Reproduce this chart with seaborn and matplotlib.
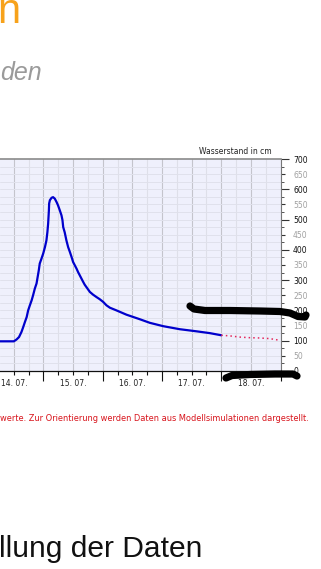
import numpy as np
import pandas as pd
import matplotlib
matplotlib.use("Agg")
import matplotlib.pyplot as plt
import matplotlib.ticker as mticker
from matplotlib.transforms import Affine2D
import seaborn as sns

# water level readings (hours after 14.07. 00:00, cm)
obs_hours = [-5.7, 0.0, 1.1, 2.1, 3.1, 3.8, 4.5, 5.2, 5.8, 6.5, 7.2, 7.8, 8.5, 9.2, 10.1,
             10.5, 11.2, 11.9, 12.6, 13.2, 13.6, 13.9, 14.2, 14.3, 14.6, 15.3, 15.9, 16.6,
             17.3, 17.9, 18.6, 19.3, 19.7, 20.0, 20.6, 21.3, 22.0, 22.7, 23.4, 24.0, 24.7,
             25.4, 26.0, 26.7, 27.4, 28.1, 28.7, 29.4, 30.1, 30.8, 32.1, 33.5, 34.8, 36.2,
             37.5, 38.9, 41.6, 45.6, 51.0, 55.1, 60.5, 67.2, 74.0, 79.4, 84.0]
obs_cm = [98, 98, 104, 112, 129, 145, 162, 178, 200, 217, 233, 250, 272, 289, 332,
          355, 371, 388, 409, 431, 459, 487, 530, 553, 564, 572, 574, 569,
          558, 547, 531, 514, 498, 475, 458, 431, 409, 393, 376, 360, 349,
          338, 327, 316, 305, 294, 285, 277, 269, 261, 252, 244, 237, 228,
          217, 209, 200, 186, 171, 159, 148, 138, 131, 125, 118]

# model forecast
fc_hours = [84.0, 87.4, 91.5, 95.5, 99.6, 103.6, 108.0]
fc_cm = [118, 116, 112, 110, 109, 107, 101]

day_labels = ["14. 07.", "15. 07.", "16. 07.", "17. 07.", "18. 07."]
day_hours = [0, 24, 48, 72, 96]

obs = pd.DataFrame({"h": obs_hours, "cm": obs_cm})
fc = pd.DataFrame({"h": fc_hours, "cm": fc_cm})

sns.set_theme(style="white")
plt.rcParams['font.family'] = ['DejaVu Sans']

W, H = 321, 569
fig = plt.figure(figsize=(W / 100, H / 100), dpi=100)
px = Affine2D().scale(1 / W, -1 / H).translate(0, 1) + fig.transFigure

ax = fig.add_axes([0, (H - 371) / H, 280.5 / W, 212 / H])
ax.set_facecolor("#eff0fc")

# grid
for g in np.arange(0, 109, 6):
    ax.axvline(g, color="#c4c4cc" if g % 12 == 0 else "#dedfe9", lw=0.8, zorder=0)
for g in np.arange(25, 700, 25):
    ax.axhline(g, color="#e0e1ec", lw=0.7, zorder=0)

sns.lineplot(data=obs, x="h", y="cm", ax=ax, color="#0000cc", lw=1.6, sort=False)
sns.lineplot(data=fc, x="h", y="cm", ax=ax, color="#e4285a", lw=1.1,
             linestyle=(0, (1, 2)), sort=False)

ax.set_xlim(-5.6, 108)
ax.set_ylim(0, 700)
ax.set_xlabel("")
ax.set_ylabel("")

ax.spines["left"].set_visible(False)
ax.spines["top"].set_color("#8a8a8a")
ax.spines["top"].set_linewidth(1.2)
ax.spines["right"].set_color("#777777")
ax.spines["right"].set_linewidth(0.8)
ax.spines["bottom"].set_color("#111111")
ax.spines["bottom"].set_linewidth(0.9)

# x axis: ticks every 6 h, long ticks at noon, labels at midnight
xt = list(range(0, 109, 6))
ax.xaxis.set_major_locator(mticker.FixedLocator(xt))
ax.set_xticklabels([day_labels[day_hours.index(t)] if t in day_hours else "" for t in xt])
ax.tick_params(axis="x", direction="out", length=3, width=0.8, color="#111111",
               labelsize=5.5, labelcolor="#222222", pad=2.5, bottom=True)

# y axis on the right
ax.yaxis.tick_right()
ax.yaxis.set_major_locator(mticker.MultipleLocator(50))
ax.yaxis.set_minor_locator(mticker.MultipleLocator(25))
ax.tick_params(axis="y", which="major", direction="out", length=3, width=0.8,
               color="#333333", labelsize=5.5, pad=6, right=True, left=False)
ax.tick_params(axis="y", which="minor", direction="out", length=2.2, width=0.7,
               color="#555555", right=True, left=False)
ax.yaxis.set_major_formatter(mticker.FormatStrFormatter("%d"))

fig.canvas.draw()
for t, tick in zip(ax.get_xticks(), ax.xaxis.get_major_ticks()):
    tick.tick1line.set_markersize(7 if t % 24 == 12 else 3)
for v, tick in zip(ax.get_yticks(), ax.yaxis.get_major_ticks()):
    tick.tick2line.set_markersize(6 if v % 100 == 0 else 3)
    tick.label2.set_color("#111111" if v % 100 == 0 else "#a0a0a0")

fig.text(272, 151, "Wasserstand in cm", transform=px, ha="right", va="center",
         fontsize=5.5, color="#222222")

# page texts around the chart
fig.text(-3, 23, "n", transform=px, ha="left", va="baseline", fontsize=30,
         color="#f7a21b", family="Liberation Sans")
fig.text(0, 80, "den", transform=px, ha="left", va="baseline", fontsize=18,
         color="#9a9a9a", style="italic", family="Liberation Sans")
fig.text(0, 421, "werte. Zur Orientierung werden Daten aus Modellsimulationen dargestellt.",
         transform=px, ha="left", va="baseline", fontsize=5.95, color="#d8141c")
fig.text(-1, 557, "llung der Daten", transform=px, ha="left", va="baseline",
         fontsize=21.6, color="#111111", family="Liberation Sans")

# hand-drawn marker strokes on the screenshot
scrib1_x = [190, 194, 205, 230, 260, 280, 290, 298, 305, 306]
scrib1_y = [306, 309, 310.5, 310.5, 311, 311.5, 313, 316.5, 317, 315]
scrib2_x = [226, 232, 250, 275, 293, 297]
scrib2_y = [378, 375.5, 374.5, 374, 374, 376]
for sx, sy in [(scrib1_x, scrib1_y), (scrib2_x, scrib2_y)]:
    fig.add_artist(plt.Line2D(sx, sy, transform=px, color="black", lw=5.2,
                              solid_capstyle="round", solid_joinstyle="round"))

fig.savefig("out.png", dpi=100)
